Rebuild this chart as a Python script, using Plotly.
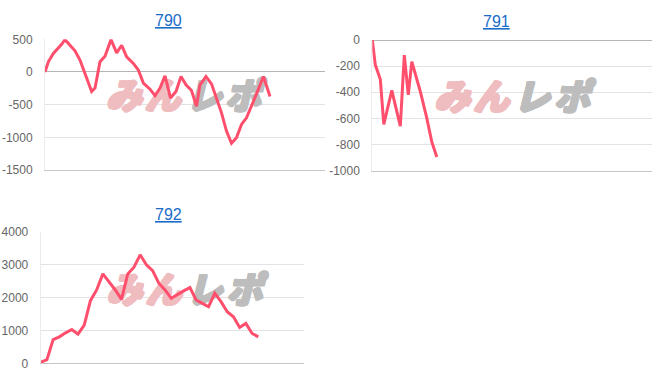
import plotly.graph_objects as go

# ---- data ----
titles = ["790", "791", "792"]

x790 = [0, 0.67, 1.67, 2.67, 3.33, 4, 5, 6, 7, 8, 9.33, 10, 11, 12, 13.2, 14.33, 15.33,
        16.33, 17.67, 18.67, 19.67, 21, 22, 23, 24, 25.1, 26.2, 27.2, 28.2, 29.3, 30.3,
        31, 32.2, 33.3, 34.3, 35.3, 36.3, 37.3, 38.3, 39.3, 40.3, 41.3, 42.5, 43.7, 45]
y790 = [0, 156, 283, 359, 424, 495, 409, 323, 182, -20, -298, -247, 156, 242, 495, 292, 409,
        232, 131, 30, -171, -263, -364, -247, -60, -399, -298, -70, -197, -283, -525,
        -197, -70, -182, -399, -626, -905, -1090, -1005, -803, -702, -525, -298, -70, -374]

x791 = [0, 0.6, 1.6, 2.3, 3.9, 5.6, 6.4, 7.2, 7.9, 9.6, 10.9, 11.9, 12.9]
y791 = [0, -190, -300, -645, -385, -660, -115, -420, -165, -394, -598, -780, -895]

x792 = list(range(37))
y792 = [30, 110, 723, 804, 926, 1029, 886, 1160, 1903, 2229, 2718, 2483, 2229, 1945, 2718,
        2922, 3298, 2992, 2819, 2433, 2229, 1975, 2100, 2200, 2300, 1924, 1820, 1720, 2128,
        1872, 1567, 1414, 1090, 1212, 907, 804]
x792 = x792[:len(y792)]

yticks790 = [500, 0, -500, -1000, -1500]
yticks791 = [0, -200, -400, -600, -800, -1000]
yticks792 = [4000, 3000, 2000, 1000, 0]

logo_pink = ["み", "ん"]
logo_gray = ["レ", "ポ"]

# ---- styling / layout ----
W, H = 652, 382
LINE = "#ff4f6d"
PINK = "#efbcc0"
GRAY = "#bdbdbd"


def thick(c):
    return ", ".join(f"{a}px {b}px 0px {c}" for a, b in
                     [(1, 0), (-1, 0), (0, 1), (0, -1), (1, 1), (-1, -1), (1, -1), (-1, 1)])


panels = [
    dict(x=x790, y=y790, ticks=yticks790, yr=[-1500, 500], xr=[0, 56],
         dx=[45, 325], dy=[170, 39.3], title_px=(168, 20.5),
         logo_fx=[0.282, 0.421, 0.568, 0.707], logo_fy=0.535),
    dict(x=x791, y=y791, ticks=yticks791, yr=[-1000, 0], xr=[0, 55.94],
         dx=[372.3, 652], dy=[170.7, 40], title_px=(496, 21.5),
         logo_fx=[0.286, 0.425, 0.571, 0.714], logo_fy=0.533),
    dict(x=x792, y=y792, ticks=yticks792, yr=[0, 4000], xr=[0, 42.4],
         dx=[40.7, 304.3], dy=[363.3, 231.7], title_px=(168, 214),
         logo_fx=[0.318, 0.466, 0.621, 0.773], logo_fy=0.527),
]

fig = go.Figure()
layout = dict(width=W, height=H, margin=dict(l=0, r=0, t=0, b=0, pad=0), autosize=False,
              paper_bgcolor="white", plot_bgcolor="white", showlegend=False,
              annotations=[])

for i, p in enumerate(panels):
    n = "" if i == 0 else str(i + 1)
    xa, ya = "x" + n, "y" + n
    # watermark (drawn first so the line sits on top)
    wx = [p["xr"][0] + f * (p["xr"][1] - p["xr"][0]) for f in p["logo_fx"]]
    wy = p["yr"][0] + p["logo_fy"] * (p["yr"][1] - p["yr"][0])
    for chars, xs, col in [(logo_pink, wx[:2], PINK), (logo_gray, wx[2:], GRAY)]:
        fig.add_trace(go.Scatter(
            x=xs, y=[wy] * len(xs), mode="text", text=chars, xaxis=xa, yaxis=ya,
            textfont=dict(family="Noto Sans CJK JP", size=36, weight=900, style="italic",
                          color=col, shadow=thick(col)),
            hoverinfo="skip", cliponaxis=False))
    fig.add_trace(go.Scatter(
        x=p["x"], y=p["y"], mode="lines", xaxis=xa, yaxis=ya,
        line=dict(color=LINE, width=3), hoverinfo="skip"))

    layout["xaxis" + n] = dict(
        domain=[p["dx"][0] / W, p["dx"][1] / W], range=p["xr"], anchor=ya,
        showgrid=False, zeroline=False, showticklabels=False, ticks="",
        showline=True, linecolor="#c6c6c6", linewidth=1, fixedrange=True,
        automargin=False)
    layout["yaxis" + n] = dict(
        domain=[1 - p["dy"][0] / H, 1 - p["dy"][1] / H], range=p["yr"], anchor=xa,
        tickvals=p["ticks"], ticktext=[str(v) for v in p["ticks"]],
        showgrid=True, gridcolor="#e3e3e3", gridwidth=1,
        zeroline=True, zerolinecolor="#b5b5b5", zerolinewidth=1,
        showline=True, linecolor="#ebebeb", linewidth=1, ticks="",
        ticklabelstandoff=9, automargin=False,
        tickfont=dict(family="Liberation Sans, Arial", size=12, color="#666666"),
        fixedrange=True)
    layout["annotations"].append(dict(
        text="<u>" + titles[i] + "</u>", xref="paper", yref="paper",
        x=p["title_px"][0] / W, y=1 - p["title_px"][1] / H,
        xanchor="center", yanchor="middle", showarrow=False,
        font=dict(family="Liberation Sans, Arial", size=16, color="#1a6cc8")))

fig.update_layout(**layout)
fig.write_html("out.html")
